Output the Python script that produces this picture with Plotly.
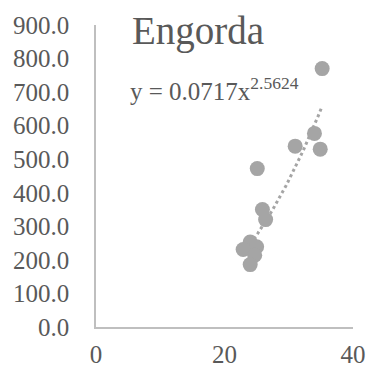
import plotly.graph_objects as go
import numpy as np

# data
x_vals = [35.2, 34.0, 34.9, 31.0, 25.1, 25.9, 26.4, 24.0, 25.0, 22.9, 24.7, 24.0]
y_vals = [770, 577, 530, 539, 472, 350, 320, 253, 239, 231, 214, 186]
trend_a = 0.0717
trend_b = 2.5624
title_text = "Engorda"
eq_text = "y = 0.0717x<sup>2.5624</sup>"
y_ticks = [0, 100, 200, 300, 400, 500, 600, 700, 800, 900]
x_ticks = [0, 20, 40]

tx = np.linspace(min(x_vals), max(x_vals), 60)
ty = trend_a * tx ** trend_b

FONT = "Liberation Serif, Times New Roman, serif"
GREY = "#a5a5a5"
TXT = "#595959"

fig = go.Figure()
fig.add_trace(go.Scatter(x=tx, y=ty, mode="lines",
                         line=dict(color=GREY, width=3, dash="dot"),
                         hoverinfo="skip", showlegend=False))
fig.add_trace(go.Scatter(x=x_vals, y=y_vals, mode="markers",
                         marker=dict(color=GREY, size=15),
                         showlegend=False))

fig.add_annotation(x=15.9, y=882, xref="x", yref="y", text=title_text,
                   showarrow=False, xanchor="center", yanchor="middle",
                   font=dict(family=FONT, size=39, color=TXT))
fig.add_annotation(x=5.0, y=708, xref="x", yref="y", text=eq_text,
                   showarrow=False, xanchor="left", yanchor="middle",
                   font=dict(family=FONT, size=25, color=TXT))

fig.update_layout(
    width=369, height=368,
    margin=dict(l=96, r=16, t=25, b=41),
    paper_bgcolor="white", plot_bgcolor="white",
    font=dict(family=FONT, size=25, color=TXT),
)
fig.update_xaxes(range=[0, 40], tickvals=x_ticks, showgrid=False, zeroline=False,
                 showline=True, linecolor="#bfbfbf", linewidth=1.5,
                 ticks="", ticklabelstandoff=4, automargin=False,
                 tickfont=dict(family=FONT, size=25, color=TXT))
fig.update_yaxes(range=[0, 900], tickvals=y_ticks, tickformat=".1f",
                 showgrid=False, zeroline=False,
                 showline=True, linecolor="#bfbfbf", linewidth=1.5,
                 ticks="", ticklabelstandoff=20, automargin=False,
                 tickfont=dict(family=FONT, size=25, color=TXT))

fig.write_html("out.html", config={"displayModeBar": False},
               post_script="document.body.style.margin='0';document.body.style.overflow='hidden';")
